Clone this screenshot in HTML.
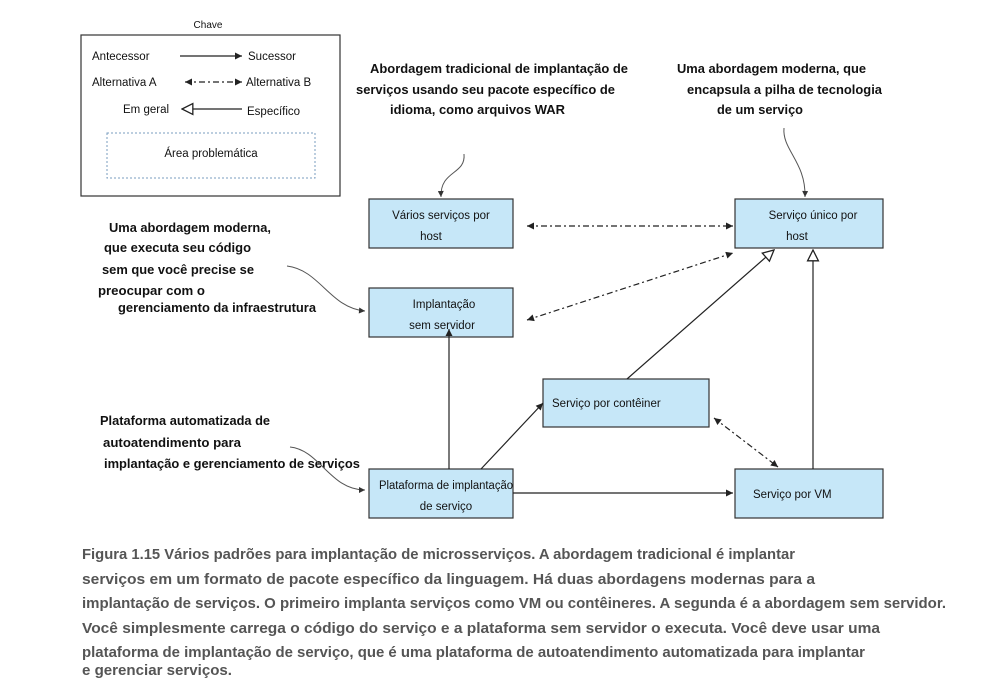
<!DOCTYPE html>
<html><head><meta charset="utf-8"><style>
html,body{margin:0;padding:0;background:#fff;}
svg{display:block;}
text{font-family:"Liberation Sans",sans-serif;}
.n{font-size:11.5px;fill:#111;}
.b{font-size:12.5px;font-weight:bold;fill:#111;}
.c{font-size:15px;font-weight:bold;fill:#555;}
.box{fill:#c6e7f8;stroke:#333;stroke-width:1.2;}
.ln{stroke:#222;stroke-width:1.2;fill:none;}
.dd{stroke:#222;stroke-width:1.2;fill:none;stroke-dasharray:6,3,2,3;}
.cv{stroke:#555;stroke-width:1;fill:none;}
</style></head><body>
<svg width="993" height="686" viewBox="0 0 993 686" xmlns="http://www.w3.org/2000/svg">
<defs>
<marker id="a" viewBox="0 0 10 10" refX="10" refY="5" markerWidth="9" markerHeight="7" orient="auto-start-reverse" markerUnits="userSpaceOnUse"><path d="M0,0L10,5L0,10z" fill="#222"/></marker>
<marker id="s" viewBox="0 0 10 10" refX="10" refY="5" markerWidth="7" markerHeight="6" orient="auto" markerUnits="userSpaceOnUse"><path d="M0,0L10,5L0,10z" fill="#333"/></marker>
<marker id="h" viewBox="0 0 12 12" refX="11" refY="6" markerWidth="13" markerHeight="13" orient="auto" markerUnits="userSpaceOnUse"><path d="M1,1L11,6L1,11z" fill="#fff" stroke="#222" stroke-width="1.2"/></marker>
</defs>

<text x="208" y="28" class="n" text-anchor="middle" style="font-size:10px">Chave</text>
<rect x="81" y="35" width="259" height="161" fill="none" stroke="#333" stroke-width="1.2"/>
<text x="92" y="60" class="n">Antecessor</text>
<line x1="180" y1="56" x2="242" y2="56" class="ln" marker-end="url(#a)"/>
<text x="248" y="60" class="n">Sucessor</text>
<text x="92" y="86" class="n">Alternativa A</text>
<line x1="185" y1="82" x2="242" y2="82" class="dd" marker-start="url(#a)" marker-end="url(#a)"/>
<text x="246" y="86" class="n">Alternativa B</text>
<text x="123" y="113" class="n">Em geral</text>
<line x1="242" y1="109" x2="182" y2="109" class="ln" marker-end="url(#h)"/>
<text x="247" y="115" class="n">Específico</text>
<rect x="107" y="133" width="208" height="45" fill="none" stroke="#7a9cbf" stroke-width="1" stroke-dasharray="2,2"/>
<text x="211" y="157" class="n" text-anchor="middle">Área problemática</text>

<g>
<text class="b" x="370" y="73" textLength="258" lengthAdjust="spacingAndGlyphs">Abordagem tradicional de implantação de</text>
<text class="b" x="356" y="94" textLength="259" lengthAdjust="spacingAndGlyphs">serviços usando seu pacote específico de</text>
<text class="b" x="390" y="114" textLength="175" lengthAdjust="spacingAndGlyphs">idioma, como arquivos WAR</text>
<text class="b" x="677" y="73" textLength="189" lengthAdjust="spacingAndGlyphs">Uma abordagem moderna, que</text>
<text class="b" x="687" y="94" textLength="195" lengthAdjust="spacingAndGlyphs">encapsula a pilha de tecnologia</text>
<text class="b" x="717" y="114" textLength="86" lengthAdjust="spacingAndGlyphs">de um serviço</text>
<text class="b" x="109" y="232" textLength="162" lengthAdjust="spacingAndGlyphs">Uma abordagem moderna,</text>
<text class="b" x="104" y="252" textLength="147" lengthAdjust="spacingAndGlyphs">que executa seu código</text>
<text class="b" x="102" y="274" textLength="152" lengthAdjust="spacingAndGlyphs">sem que você precise se</text>
<text class="b" x="98" y="295" textLength="107" lengthAdjust="spacingAndGlyphs">preocupar com o</text>
<text class="b" x="118" y="312" textLength="198" lengthAdjust="spacingAndGlyphs">gerenciamento da infraestrutura</text>
<text class="b" x="100" y="425" textLength="170" lengthAdjust="spacingAndGlyphs">Plataforma automatizada de</text>
<text class="b" x="103" y="447" textLength="138" lengthAdjust="spacingAndGlyphs">autoatendimento para</text>
<text class="b" x="104" y="468" textLength="256" lengthAdjust="spacingAndGlyphs">implantação e gerenciamento de serviços</text>
</g>

<path d="M464,154 C466,175 440,170 441,197" class="cv" marker-end="url(#s)"/>
<path d="M784,128 C782,150 806,162 805,197" class="cv" marker-end="url(#s)"/>
<path d="M287,266 C320,270 330,308 365,311" class="cv" marker-end="url(#s)"/>
<path d="M290,447 C320,450 330,490 365,490" class="cv" marker-end="url(#s)"/>

<rect x="369" y="199" width="144" height="49" class="box"/>
<text x="441" y="219" class="n" text-anchor="middle">Vários serviços por</text>
<text x="431" y="240" class="n" text-anchor="middle">host</text>
<rect x="735" y="199" width="148" height="49" class="box"/>
<text x="813" y="219" class="n" text-anchor="middle">Serviço único por</text>
<text x="797" y="240" class="n" text-anchor="middle">host</text>
<rect x="369" y="288" width="144" height="49" class="box"/>
<text x="444" y="308" class="n" text-anchor="middle">Implantação</text>
<text x="442" y="329" class="n" text-anchor="middle">sem servidor</text>
<rect x="543" y="379" width="166" height="48" class="box"/>
<text x="552" y="407" class="n">Serviço por contêiner</text>
<rect x="369" y="469" width="144" height="49" class="box"/>
<text x="446" y="489" class="n" text-anchor="middle" textLength="134" lengthAdjust="spacingAndGlyphs">Plataforma de implantação</text>
<text x="446" y="510" class="n" text-anchor="middle">de serviço</text>
<rect x="735" y="469" width="148" height="49" class="box"/>
<text x="753" y="498" class="n">Serviço por VM</text>

<line x1="527" y1="226" x2="733" y2="226" class="dd" marker-start="url(#a)" marker-end="url(#a)"/>
<line x1="527" y1="320" x2="733" y2="253" class="dd" marker-start="url(#a)" marker-end="url(#a)"/>
<line x1="449" y1="469" x2="449" y2="329" class="ln" marker-end="url(#a)"/>
<line x1="481" y1="469" x2="543" y2="403" class="ln" marker-end="url(#a)"/>
<line x1="513" y1="493" x2="733" y2="493" class="ln" marker-end="url(#a)"/>
<line x1="627" y1="379" x2="774" y2="250" class="ln" marker-end="url(#h)"/>
<line x1="813" y1="469" x2="813" y2="250" class="ln" marker-end="url(#h)"/>
<line x1="714" y1="418" x2="778" y2="467" class="dd" marker-start="url(#a)" marker-end="url(#a)"/>

<text class="c" x="82" y="559" textLength="713" lengthAdjust="spacingAndGlyphs">Figura 1.15 Vários padrões para implantação de microsserviços. A abordagem tradicional é implantar</text>
<text class="c" x="82" y="584" textLength="733" lengthAdjust="spacingAndGlyphs">serviços em um formato de pacote específico da linguagem. Há duas abordagens modernas para a</text>
<text class="c" x="82" y="608" textLength="864" lengthAdjust="spacingAndGlyphs">implantação de serviços. O primeiro implanta serviços como VM ou contêineres. A segunda é a abordagem sem servidor.</text>
<text class="c" x="82" y="633" textLength="798" lengthAdjust="spacingAndGlyphs">Você simplesmente carrega o código do serviço e a plataforma sem servidor o executa. Você deve usar uma</text>
<text class="c" x="82" y="657" textLength="783" lengthAdjust="spacingAndGlyphs">plataforma de implantação de serviço, que é uma plataforma de autoatendimento automatizada para implantar</text>
<text class="c" x="82" y="675" textLength="150" lengthAdjust="spacingAndGlyphs">e gerenciar serviços.</text>
</svg>
</body></html>
